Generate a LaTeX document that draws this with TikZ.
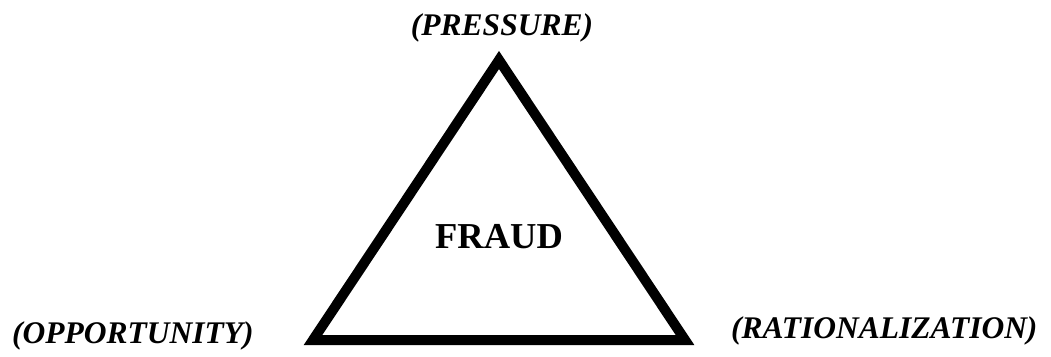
\documentclass[tikz,border=0pt]{standalone}
\usepackage{fontspec}
\setmainfont{Liberation Serif}
\usetikzlibrary{positioning}

\begin{document}
\begin{tikzpicture}[x=1pt, y=-1pt,
			tag/.style={font=\fontsize{31.5}{38}\selectfont\bfseries\itshape, inner sep=0pt},
			core/.style={font=\fontsize{36.5}{44}\selectfont\bfseries, inner sep=0pt},
			side/.style={line width=10pt, line join=miter}
			]
			\useasboundingbox (0,0) rectangle (1051,356);
			\coordinate (top) at (499,60);
			\coordinate (left) at (313,340);
			\coordinate (right) at (685,340);
			\draw[side] (top) -- (left) -- (right) -- cycle;
			\node [core, anchor=base](fraud) at (499,248) {FRAUD};
			\node [tag, anchor=base](pressure) at (502,35) {(PRESSURE)};
			\node [tag, anchor=base west](opportunity) at (12,343) {(OPPORTUNITY)};
			\node [tag, anchor=base west](rationalization) at (731,338) {(RATIONALIZATION)};
		\end{tikzpicture}
\end{document}
